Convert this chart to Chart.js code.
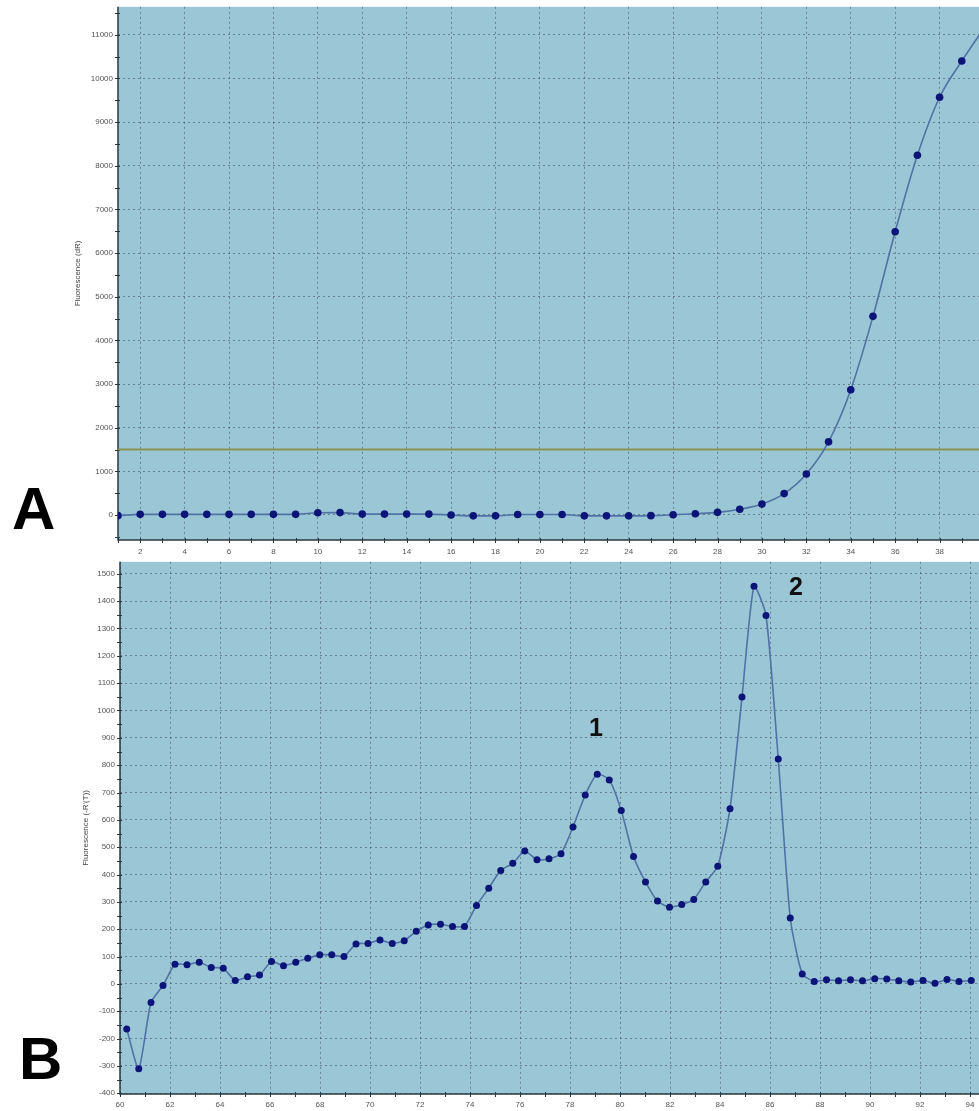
<!DOCTYPE html>
<html>
<head>
<meta charset="utf-8">
<script src="https://cdn.jsdelivr.net/npm/chart.js@4.4.0/dist/chart.umd.min.js"></script>
<style>
  html, body { margin: 0; padding: 0; background: #fff; overflow: hidden; width: 979px; height: 1111px; }
  #wrap { position: relative; width: 979px; height: 1111px; overflow: hidden; }
  canvas { position: absolute; left: 0; }
  #chartA { top: -3px; }
  #chartB { top: 552px; }
  .panel { position: absolute; font-family: "Liberation Sans", Arial, sans-serif; font-weight: bold; font-size: 60px; line-height: 1; color: #000; }
  .peak { position: absolute; width: 40px; text-align: center; font-family: "Liberation Sans", Arial, sans-serif; font-weight: bold; font-size: 25px; line-height: 1; color: #111; }
</style>
</head>
<body>
<div id="wrap">
  <canvas id="chartA" width="1010" height="563"></canvas>
  <canvas id="chartB" width="1010" height="559"></canvas>
  <div class="panel" style="left:12px; top:479px;">A</div>
  <div class="panel" style="left:19px; top:1029px;">B</div>
  <div class="peak" style="left:576px; top:715px;">1</div>
  <div class="peak" style="left:776px; top:574px;">2</div>
</div>
<script>
// ---- Panel A: amplification plot (cycle vs fluorescence dR) ----
const cyclesA = [1, 2, 3, 4, 5, 6, 7, 8, 9, 10, 11, 12, 13, 14, 15, 16, 17, 18, 19, 20,
                 21, 22, 23, 24, 25, 26, 27, 28, 29, 30, 31, 32, 33, 34, 35, 36, 37, 38, 39, 40];
const fluorA = [-15, 15, 15, 15, 15, 15, 15, 15, 15, 50, 55, 20, 20, 20, 20, 0, -20, -20, 10, 10,
                10, -20, -20, -20, -15, 5, 30, 60, 130, 250, 490, 940, 1675, 2870, 4550, 6490, 8240, 9570, 10400, 11150];
const thresholdA = 1500;
const xTicksA = [2, 4, 6, 8, 10, 12, 14, 16, 18, 20, 22, 24, 26, 28, 30, 32, 34, 36, 38, 40];
const yTicksA = [0, 1000, 2000, 3000, 4000, 5000, 6000, 7000, 8000, 9000, 10000, 11000];

// ---- Panel B: melt curve (temperature vs -R'(T)) ----
const tempsB = [60.27, 60.75, 61.24, 61.72, 62.20, 62.68, 63.17, 63.65, 64.13, 64.61,
                65.10, 65.58, 66.06, 66.54, 67.03, 67.51, 67.99, 68.47, 68.96, 69.44,
                69.92, 70.40, 70.89, 71.37, 71.85, 72.33, 72.82, 73.30, 73.78, 74.26,
                74.75, 75.23, 75.71, 76.19, 76.68, 77.16, 77.64, 78.12, 78.61, 79.09,
                79.57, 80.05, 80.54, 81.02, 81.50, 81.98, 82.47, 82.95, 83.43, 83.91,
                84.40, 84.88, 85.36, 85.84, 86.33, 86.81, 87.29, 87.77, 88.26, 88.74,
                89.22, 89.70, 90.19, 90.67, 91.15, 91.63, 92.12, 92.60, 93.08, 93.56, 94.05];
const derivB = [-165, -311, -68, -6, 72, 70, 79, 60, 57, 12,
                26, 32, 82, 66, 79, 94, 106, 106, 100, 146,
                148, 160, 148, 158, 192, 215, 218, 210, 210, 287,
                350, 415, 441, 486, 454, 458, 476, 574, 691, 767,
                746, 634, 466, 373, 303, 280, 290, 309, 373, 430,
                641, 1049, 1455, 1348, 823, 241, 36, 9, 15, 11,
                15, 11, 19, 18, 11, 7, 12, 2, 16, 9, 12];
const xTicksB = [60, 62, 64, 66, 68, 70, 72, 74, 76, 78, 80, 82, 84, 86, 88, 90, 92, 94];
const yTicksB = [-400, -300, -200, -100, 0, 100, 200, 300, 400, 500, 600, 700,
                 800, 900, 1000, 1100, 1200, 1300, 1400, 1500];

const PLOT_BG = "#9ac6d6";
const LINE_COLOR = "#5072a4";
const POINT_COLOR = "#0b1578";
const GRID_COLOR = "rgba(60, 75, 85, 0.55)";
const AXIS_COLOR = "#2a3840";
const TICK_FONT = { family: "'Liberation Sans', Arial, sans-serif", size: 8 };

// plot background + axis lines + major/minor tick marks
const plotDecor = {
  id: "plotDecor",
  beforeDraw(chart) {
    const { ctx, chartArea: a } = chart;
    ctx.save();
    ctx.fillStyle = PLOT_BG;
    ctx.fillRect(a.left, a.top, a.right - a.left + 30, a.bottom - a.top);
    ctx.restore();
  },
  beforeDatasetsDraw(chart, args, opts) {
    const { ctx, chartArea: a, scales: { x, y } } = chart;
    ctx.save();
    ctx.setLineDash([]);
    ctx.strokeStyle = AXIS_COLOR;
    ctx.lineWidth = 1.5;
    ctx.beginPath();
    ctx.moveTo(a.left, a.top);
    ctx.lineTo(a.left, a.bottom);
    ctx.lineTo(a.right + 30, a.bottom);
    ctx.stroke();

    ctx.lineWidth = 1;
    ctx.beginPath();
    for (let v = Math.ceil(x.min / opts.xMinor) * opts.xMinor; v <= x.max; v += opts.xMinor) {
      const px = Math.round(x.getPixelForValue(v)) + 0.5;
      ctx.moveTo(px, a.bottom - 2);
      ctx.lineTo(px, a.bottom + 3);
    }
    for (let v = Math.ceil(y.min / opts.yMinor) * opts.yMinor; v <= y.max; v += opts.yMinor) {
      const py = Math.round(y.getPixelForValue(v)) + 0.5;
      ctx.moveTo(a.left - 3, py);
      ctx.lineTo(a.left + 2, py);
    }
    ctx.stroke();
    ctx.restore();
  }
};

function makeOptions(cfg) {
  return {
    responsive: false,
    animation: false,
    layout: { padding: cfg.padding },
    plugins: {
      legend: { display: false },
      tooltip: { enabled: false },
      plotDecor: { xMinor: cfg.xMinor, yMinor: cfg.yMinor }
    },
    scales: {
      x: {
        type: "linear",
        min: cfg.xMin,
        max: cfg.xMax,
        afterBuildTicks: (s) => { s.ticks = cfg.xTicks.map(v => ({ value: v })); },
        afterFit: (s) => { s.height = cfg.xHeight; },
        grid: { color: GRID_COLOR, lineWidth: 1, drawTicks: false },
        border: { display: false, dash: [2, 3] },
        ticks: { font: TICK_FONT, color: "#555", padding: cfg.xPad, maxRotation: 0, autoSkip: false,
                 callback: (v) => String(v) }
      },
      y: {
        type: "linear",
        min: cfg.yMin,
        max: cfg.yMax,
        afterBuildTicks: (s) => { s.ticks = cfg.yTicks.map(v => ({ value: v })); },
        afterFit: (s) => { s.width = cfg.yWidth; },
        grid: { color: GRID_COLOR, lineWidth: 1, drawTicks: false },
        border: { display: false, dash: [2, 3] },
        ticks: { font: TICK_FONT, color: "#555", padding: 5, autoSkip: false,
                 callback: (v) => String(v) },
        title: { display: true, text: cfg.title, font: TICK_FONT, color: "#444", padding: 0 }
      }
    }
  };
}

new Chart(document.getElementById("chartA"), {
  type: "line",
  data: {
    datasets: [
      {
        data: cyclesA.map((c, i) => ({ x: c, y: fluorA[i] })),
        borderColor: LINE_COLOR,
        borderWidth: 1.6,
        cubicInterpolationMode: "monotone",
        pointRadius: 3.8,
        pointBackgroundColor: POINT_COLOR,
        pointBorderColor: POINT_COLOR,
        pointBorderWidth: 0,
        order: 1
      },
      {
        data: [{ x: cyclesA[0], y: thresholdA }, { x: cyclesA[cyclesA.length - 1], y: thresholdA }],
        borderColor: "#8a934a",
        borderWidth: 2,
        pointRadius: 0,
        tension: 0,
        order: 2
      }
    ]
  },
  options: makeOptions({
    padding: { left: 73, top: 7, right: 26, bottom: 0 },
    xMin: 1, xMax: 40, yMin: -573, yMax: 11642,
    xTicks: xTicksA, yTicks: yTicksA,
    xMinor: 1, yMinor: 500,
    xHeight: 20, yWidth: 45, xPad: 7,
    title: "Fluorescence (dR)"
  }),
  plugins: [plotDecor]
});

new Chart(document.getElementById("chartB"), {
  type: "line",
  data: {
    datasets: [
      {
        data: tempsB.map((t, i) => ({ x: t, y: derivB[i] })),
        borderColor: LINE_COLOR,
        borderWidth: 1.6,
        tension: 0.2,
        pointRadius: 3.5,
        pointBackgroundColor: POINT_COLOR,
        pointBorderColor: POINT_COLOR,
        pointBorderWidth: 0
      }
    ]
  },
  options: makeOptions({
    padding: { left: 81, top: 2, right: 15, bottom: 0 },
    xMin: 60, xMax: 95, yMin: -403, yMax: 1544,
    xTicks: xTicksB, yTicks: yTicksB,
    xMinor: 1, yMinor: 50,
    xHeight: 17, yWidth: 39, xPad: 6,
    title: "Fluorescence (-R'(T))"
  }),
  plugins: [plotDecor]
});
</script>
</body>
</html>
